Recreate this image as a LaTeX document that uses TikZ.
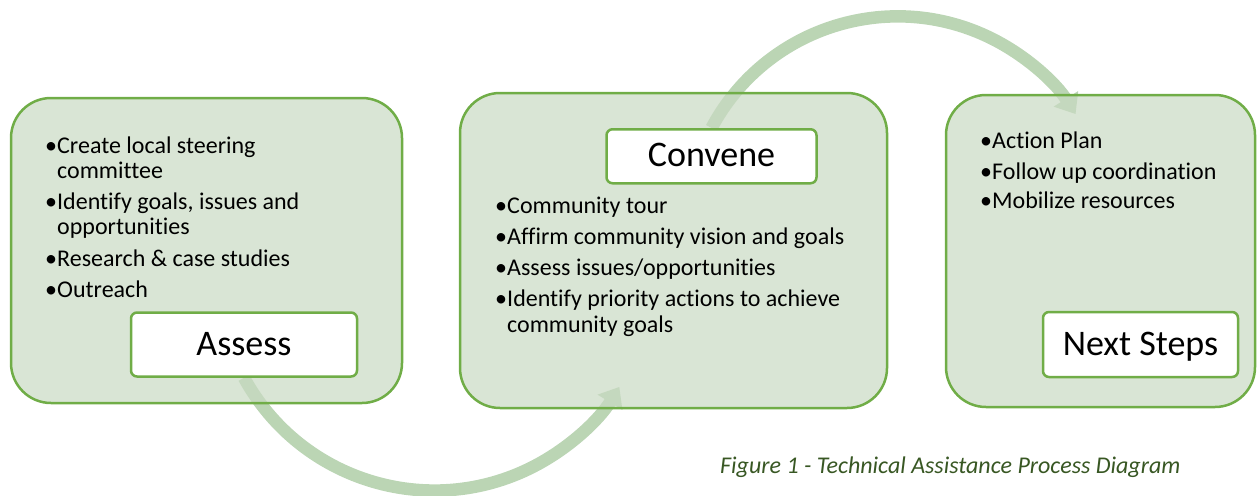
\documentclass[tikz,border=0pt]{standalone}
\usepackage{fontspec}
\setmainfont{Carlito}[Ligatures=CommonOff]
\usetikzlibrary{arrows.meta}
\definecolor{boxfill}{RGB}{201,218,195}
\definecolor{boxline}{RGB}{112,173,71}
\definecolor{arrowc}{RGB}{187,213,180}
\definecolor{capc}{RGB}{56,87,35}
\pgfdeclarelayer{arrowlayer}
\pgfdeclarelayer{panellayer}
\pgfsetlayers{arrowlayer,panellayer,main}
\begin{document}
\begin{tikzpicture}[x=1pt,y=-1pt,
  panel/.style={draw=boxline, line width=2.5pt, fill=boxfill, fill opacity=0.7, draw opacity=1,
    rounded corners=40pt, inner sep=0pt},
  label/.style={draw=boxline, line width=2.5pt, fill=white, rounded corners=6pt, inner sep=0pt,
    font=\fontsize{36}{40}\selectfont, text height=23pt, text depth=2pt},
  txt/.style={anchor=base west, inner sep=0pt, font=\fontsize{24}{26}\selectfont, text=black},
  flow/.style={draw=arrowc, line width=12.5pt, -{Triangle[length=18pt,width=28pt]}},
  caption/.style={anchor=base west, inner sep=0pt, text=capc, font=\fontsize{24}{26}\selectfont\itshape}
]
\useasboundingbox (0,0) rectangle (1257,495);

% label boxes
\node[label, minimum width=226pt, minimum height=64pt] (assess) at (244,344.5) {Assess};
\node[label, minimum width=210pt, minimum height=54pt] (convene) at (711.5,156.25) {Convene};
\node[label, minimum width=195pt, minimum height=65pt] (next) at (1140.5,344.5) {Next Steps};

% panels
\begin{pgfonlayer}{panellayer}
\node[panel, minimum width=391pt, minimum height=305pt] (p1) at (206.5,250.5) {};
\node[panel, minimum width=427pt, minimum height=315pt] (p2) at (673.5,250.5) {};
\node[panel, minimum width=309pt, minimum height=312pt] (p3) at (1100.5,251) {};
\end{pgfonlayer}

% curved arrows
\begin{pgfonlayer}{arrowlayer}
\draw[flow] (assess.south) arc[start angle=151.3, end angle=31.5, radius=217];
\draw[flow] (convene.north) arc[start angle=-151.9, end angle=-32.5, radius=211];
\end{pgfonlayer}

% box 1 text
\node[txt] (b1a) at (45,153) {•};
\node[txt] (t1a) at (57,153) {Create local steering};
\node[txt] (t1b) at (57,178) {committee};
\node[txt] (b1c) at (45,209) {•};
\node[txt] (t1c) at (57,209) {Identify goals, issues and};
\node[txt] (t1d) at (57,234) {opportunities};
\node[txt] (b1e) at (45,266) {•};
\node[txt] (t1e) at (57,266) {Research \& case studies};
\node[txt] (b1f) at (45,297) {•};
\node[txt] (t1f) at (57,297) {Outreach};

% box 2 text
\node[txt] (b2a) at (495,213) {•};
\node[txt] (t2a) at (507,213) {Community tour};
\node[txt] (b2b) at (495,244) {•};
\node[txt] (t2b) at (507,244) {Affirm community vision and goals};
\node[txt] (b2c) at (495,275) {•};
\node[txt] (t2c) at (507,275) {Assess issues/opportunities};
\node[txt] (b2d) at (495,306) {•};
\node[txt] (t2d) at (507,306) {Identify priority actions to achieve};
\node[txt] (t2e) at (507,332) {community goals};

% box 3 text
\node[txt] (b3a) at (980,148) {•};
\node[txt] (t3a) at (992,148) {Action Plan};
\node[txt] (b3b) at (980,179) {•};
\node[txt] (t3b) at (992,179) {Follow up coordination};
\node[txt] (b3c) at (980,208) {•};
\node[txt] (t3c) at (992,208) {Mobilize resources};

% caption
\node[caption] (cap) at (720,473) {Figure 1 - Technical Assistance Process Diagram};
\end{tikzpicture}
\end{document}
